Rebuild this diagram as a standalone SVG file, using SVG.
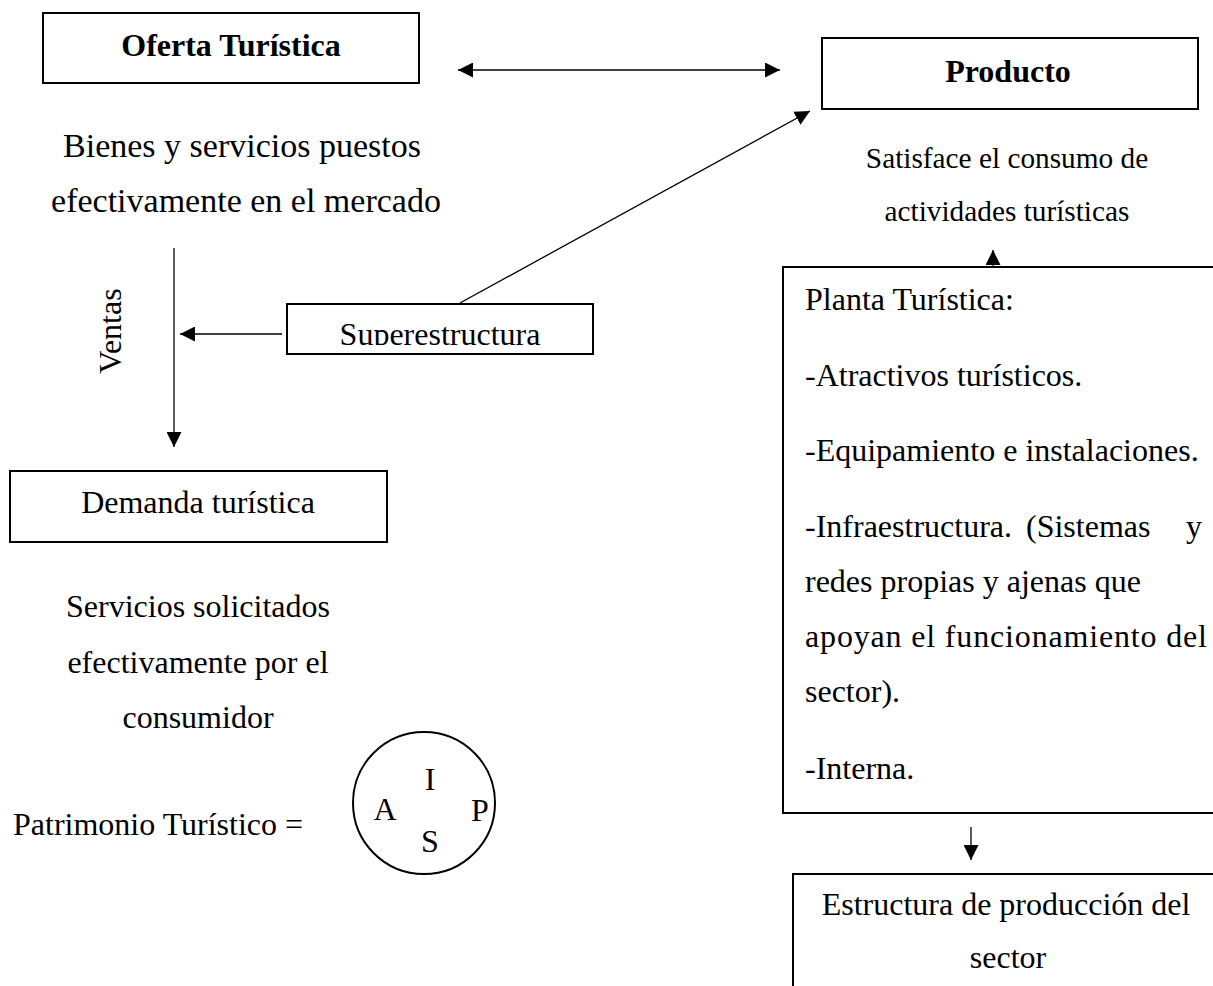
<svg xmlns="http://www.w3.org/2000/svg" width="1213" height="986" viewBox="0 0 1213 986">
<style>
.box{fill:#fff;stroke:#000;stroke-width:2}
.t{font-family:"Liberation Serif","Times New Roman",serif;font-size:32px;fill:#000}
.b{font-weight:bold}
.s{font-size:29.3px}
.l{font-size:34px}
.c{text-anchor:middle}
.ln{stroke:#000;stroke-width:1.3;fill:none}
</style>
<defs>
<marker id="ah" viewBox="0 0 10 10" refX="10" refY="5" markerWidth="15" markerHeight="15" markerUnits="userSpaceOnUse" orient="auto-start-reverse">
<path d="M0,0 L10,5 L0,10 z" fill="#000"/>
</marker>
<clipPath id="supclip"><rect x="287" y="304" width="306" height="41"/></clipPath>
</defs>
<rect width="1213" height="986" fill="#fff"/>
<g id="oferta">
<rect class="box" x="43" y="13" width="376" height="70"/>
<text class="t b c" x="231" y="56">Oferta Turística</text>
</g>
<g id="oferta-desc">
<text class="t l c" x="242" y="157">Bienes y servicios puestos</text>
<text class="t l c" x="246" y="212">efectivamente en el mercado</text>
</g>
<g id="producto">
<rect class="box" x="822" y="38" width="376" height="71"/>
<text class="t b c" x="1008" y="82">Producto</text>
</g>
<g id="producto-desc">
<text class="t s c" x="1007" y="168">Satisface el consumo de</text>
<text class="t s c" x="1007" y="221">actividades turísticas</text>
</g>
<g id="superestructura">
<rect class="box" x="287" y="304" width="306" height="50"/>
<text class="t c" x="440" y="345" clip-path="url(#supclip)">Superestructura</text>
</g>
<g id="ventas">
<text class="t" x="0" y="0" font-size="28" text-anchor="middle" transform="translate(121,331) rotate(-90)">Ventas</text>
</g>
<g id="demanda">
<rect class="box" x="10" y="471" width="377" height="71"/>
<text class="t c" x="198" y="513">Demanda turística</text>
</g>
<g id="demanda-desc">
<text class="t c" x="198" y="617">Servicios solicitados</text>
<text class="t c" x="198" y="673">efectivamente por el</text>
<text class="t c" x="198" y="728">consumidor</text>
</g>
<g id="patrimonio">
<text class="t" x="13" y="835">Patrimonio Turístico =</text>
<circle cx="424" cy="803" r="71" fill="none" stroke="#000" stroke-width="2"/>
<text class="t" font-size="27" x="430" y="790" text-anchor="middle">I</text>
<text class="t" font-size="27" x="385" y="820" text-anchor="middle">A</text>
<text class="t" font-size="27" x="480" y="821" text-anchor="middle">P</text>
<text class="t" font-size="27" x="430" y="852" text-anchor="middle">S</text>
</g>
<g id="planta">
<rect class="box" x="783" y="267" width="440" height="546"/>
<text class="t" x="805" y="310">Planta Turística:</text>
<text class="t" x="805" y="386">-Atractivos turísticos.</text>
<text class="t" x="805" y="461">-Equipamiento e instalaciones.</text>
<text class="t" x="805" y="537">-Infraestructura.<tspan x="1026">(Sistemas</tspan><tspan x="1186">y</tspan></text>
<text class="t" x="805" y="592">redes propias y ajenas que</text>
<text class="t" x="805" y="647" textLength="402" lengthAdjust="spacing">apoyan el funcionamiento del</text>
<text class="t" x="805" y="702">sector).</text>
<text class="t" x="805" y="779">-Interna.</text>
</g>
<g id="estructura">
<rect class="box" x="793" y="874" width="440" height="140"/>
<text class="t c" x="1006" y="915">Estructura de producción del</text>
<text class="t c" x="1008" y="968">sector</text>
</g>
<g id="connectors">
<line class="ln" x1="458" y1="70" x2="780" y2="70" marker-start="url(#ah)" marker-end="url(#ah)"/>
<line class="ln" x1="460" y1="303" x2="810" y2="111" marker-end="url(#ah)"/>
<line class="ln" x1="174" y1="248" x2="174" y2="447" marker-end="url(#ah)"/>
<line class="ln" x1="282" y1="334" x2="180" y2="334" marker-end="url(#ah)"/>
<line class="ln" x1="993" y1="267" x2="993" y2="250" marker-end="url(#ah)"/>
<line class="ln" x1="971" y1="827" x2="971" y2="860" marker-end="url(#ah)"/>
</g>
</svg>
